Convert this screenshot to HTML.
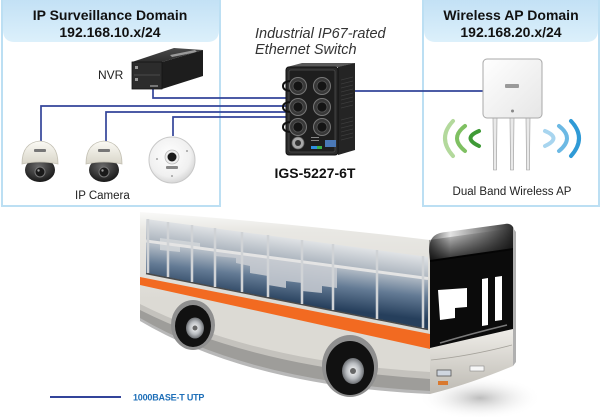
<!DOCTYPE html>
<html><head><meta charset="utf-8">
<style>
html,body{margin:0;padding:0;background:#fff;}
svg{display:block;}
text{font-family:"Liberation Sans",Arial,sans-serif;}
</style></head>
<body>
<svg width="600" height="417" viewBox="0 0 600 417" xmlns="http://www.w3.org/2000/svg">
<defs>
 <linearGradient id="hdr" x1="0" y1="0" x2="0" y2="1">
  <stop offset="0" stop-color="#c3e1f5"/><stop offset="1" stop-color="#dcf0fb"/>
 </linearGradient>
 <linearGradient id="body" gradientUnits="userSpaceOnUse" x1="0" y1="206" x2="0" y2="300">
  <stop offset="0" stop-color="#ffffff"/><stop offset="0.25" stop-color="#e9e8e4"/><stop offset="1" stop-color="#dcdad4"/>
 </linearGradient>
 <linearGradient id="winLow" gradientUnits="userSpaceOnUse" x1="300" y1="263" x2="295" y2="304">
  <stop offset="0" stop-color="#b3bcc6"/><stop offset="0.45" stop-color="#637a94"/><stop offset="1" stop-color="#263f5c"/>
 </linearGradient>
 <linearGradient id="winUp" gradientUnits="userSpaceOnUse" x1="300" y1="240" x2="297" y2="262">
  <stop offset="0" stop-color="#dfe2e5"/><stop offset="1" stop-color="#a9b2bc"/>
 </linearGradient>
 <linearGradient id="cap" x1="0" y1="0" x2="1" y2="0">
  <stop offset="0" stop-color="#5a5a5a"/><stop offset="0.25" stop-color="#e3e3e3"/><stop offset="0.6" stop-color="#8e8e8e"/><stop offset="1" stop-color="#2a2a2a"/>
 </linearGradient>
 <linearGradient id="capv" x1="0" y1="0" x2="0" y2="1">
  <stop offset="0" stop-color="#000" stop-opacity="0"/><stop offset="1" stop-color="#000" stop-opacity="0.85"/>
 </linearGradient>
 <linearGradient id="lowfront" x1="0" y1="0" x2="0" y2="1">
  <stop offset="0" stop-color="#efede8"/><stop offset="1" stop-color="#bdbab3"/>
 </linearGradient>
 <radialGradient id="hub">
  <stop offset="0" stop-color="#ffffff"/><stop offset="0.6" stop-color="#b9bcc0"/><stop offset="1" stop-color="#6d7074"/>
 </radialGradient>
 <radialGradient id="shadow">
  <stop offset="0" stop-color="#bdbdbd"/><stop offset="1" stop-color="#ffffff" stop-opacity="0"/>
 </radialGradient>
 <radialGradient id="dome" cx="0.45" cy="0.35" r="0.7">
  <stop offset="0" stop-color="#6a6a6a"/><stop offset="1" stop-color="#121212"/>
 </radialGradient>
 <linearGradient id="house" x1="0" y1="0" x2="0" y2="1">
  <stop offset="0" stop-color="#fbfaf5"/><stop offset="1" stop-color="#d9d6c9"/>
 </linearGradient>
 <radialGradient id="fish" cx="0.45" cy="0.4" r="0.65">
  <stop offset="0" stop-color="#ffffff"/><stop offset="0.7" stop-color="#f0f0f0"/><stop offset="1" stop-color="#cfcfcf"/>
 </radialGradient>
 <linearGradient id="apg" x1="0" y1="0" x2="1" y2="1">
  <stop offset="0" stop-color="#ffffff"/><stop offset="1" stop-color="#e6e6e6"/>
 </linearGradient>
 <linearGradient id="nvrTop" x1="0" y1="0" x2="0" y2="1">
  <stop offset="0" stop-color="#4a4a4a"/><stop offset="1" stop-color="#2e2e2e"/>
 </linearGradient>
</defs>
<rect width="600" height="417" fill="#fff"/>

<!-- LEFT BOX -->
<path d="M3,0 H219 V30 Q219,42 207,42 H15 Q3,42 3,30 Z" fill="url(#hdr)"/>
<rect x="2" y="-2" width="218" height="208" fill="none" stroke="#bcdff3" stroke-width="2"/>
<text x="110" y="20" text-anchor="middle" font-size="14" font-weight="bold" fill="#111">IP Surveillance Domain</text>
<text x="110" y="37" text-anchor="middle" font-size="14" font-weight="bold" fill="#111">192.168.10.x/24</text>

<!-- RIGHT BOX -->
<path d="M424,0 H598 V30 Q598,42 586,42 H436 Q424,42 424,30 Z" fill="url(#hdr)"/>
<rect x="423" y="-2" width="176" height="208" fill="none" stroke="#bcdff3" stroke-width="2"/>
<text x="511" y="20" text-anchor="middle" font-size="14" font-weight="bold" fill="#111">Wireless AP Domain</text>
<text x="511" y="37" text-anchor="middle" font-size="14" font-weight="bold" fill="#111">192.168.20.x/24</text>

<!-- connection lines -->
<g fill="none" stroke="#33449a" stroke-width="1.7">
 <path d="M153,88 V98 H292"/>
 <path d="M41,142 V106 H292"/>
 <path d="M106,142 V112 H292"/>
 <path d="M173,136 V117 H292"/>
 <path d="M352,91 H484"/>
</g>

<!-- NVR -->
<text x="98" y="79" font-size="12" fill="#222">NVR</text>
<g>
 <polygon points="132,62 162,62 203,50 174,48" fill="url(#nvrTop)"/>
 <polygon points="170,55 195,50 197,52 172,57" fill="#9a9a9a"/>
 <polygon points="162,62 203,50 203,76 162,89" fill="#1d1d1d"/>
 <rect x="132" y="62" width="30" height="27" fill="#2c2c2c" stroke="#151515" stroke-width="0.8"/>
 <line x1="134" y1="75" x2="160" y2="75" stroke="#555" stroke-width="0.8"/>
 <rect x="135" y="66" width="3" height="3" fill="#999"/>
 <rect x="135" y="78" width="3" height="3" fill="#999"/>
 <rect x="150" y="85" width="8" height="2" fill="#777"/>
</g>

<!-- Cameras -->
<g>
 <ellipse cx="40" cy="170" rx="15" ry="12" fill="url(#dome)"/>
 <path d="M22,164 C22,150 28,142 40,141 C52,142 58,150 58,164 Q40,160 22,164 Z" fill="url(#house)" stroke="#c2bfb2" stroke-width="0.8"/>
 <rect x="34" y="149" width="12" height="3" rx="1" fill="#777"/>
 <circle cx="40" cy="172" r="5" fill="#1a1a1a" stroke="#777" stroke-width="1"/>
 <circle cx="38.5" cy="170.5" r="1.2" fill="#999"/>
</g>
<g>
 <ellipse cx="104" cy="170" rx="15" ry="12" fill="url(#dome)"/>
 <path d="M86,164 C86,150 92,142 104,141 C116,142 122,150 122,164 Q104,160 86,164 Z" fill="url(#house)" stroke="#c2bfb2" stroke-width="0.8"/>
 <rect x="98" y="149" width="12" height="3" rx="1" fill="#777"/>
 <circle cx="104" cy="172" r="5" fill="#1a1a1a" stroke="#777" stroke-width="1"/>
 <circle cx="102.5" cy="170.5" r="1.2" fill="#999"/>
</g>
<g>
 <circle cx="172" cy="160" r="23" fill="url(#fish)" stroke="#c8c8c8" stroke-width="1"/>
 <circle cx="172" cy="157" r="7" fill="#eeeeee" stroke="#bbb" stroke-width="0.8"/>
 <circle cx="172" cy="157" r="4.5" fill="#1b1b1b"/>
 <rect x="166" y="166" width="12" height="3" rx="1" fill="#888"/>
 <circle cx="157" cy="159" r="0.9" fill="#888"/>
 <circle cx="187" cy="151" r="0.9" fill="#888"/>
 <circle cx="172" cy="176" r="0.9" fill="#888"/>
</g>
<text x="75" y="199" font-size="11.5" fill="#222">IP Camera</text>

<!-- Switch -->
<text x="255" y="38" font-size="14.5" font-style="italic" fill="#333">Industrial IP67-rated</text>
<text x="255" y="54" font-size="14.5" font-style="italic" fill="#333">Ethernet Switch</text>
<g>
 <polygon points="287,67 302,63 355,63 339,67" fill="#5a5a5a"/>
 <polygon points="338,67 355,63 355,150 338,155" fill="#242424"/>
 <g stroke="#3c3c3c" stroke-width="0.8">
  <line x1="341" y1="80" x2="353" y2="77"/><line x1="341" y1="84" x2="353" y2="81"/>
  <line x1="341" y1="88" x2="353" y2="85"/><line x1="341" y1="92" x2="353" y2="89"/>
  <line x1="341" y1="96" x2="353" y2="93"/><line x1="341" y1="100" x2="353" y2="97"/>
  <line x1="341" y1="104" x2="353" y2="101"/><line x1="341" y1="108" x2="353" y2="105"/>
  <line x1="341" y1="120" x2="353" y2="117"/><line x1="341" y1="124" x2="353" y2="121"/>
  <line x1="341" y1="128" x2="353" y2="125"/><line x1="341" y1="132" x2="353" y2="129"/>
  <line x1="341" y1="136" x2="353" y2="133"/><line x1="341" y1="140" x2="353" y2="137"/>
 </g>
 <rect x="286" y="67" width="52" height="88" rx="3" fill="#2b2b2b" stroke="#111" stroke-width="1"/>
 <rect x="289" y="70" width="46" height="82" rx="2" fill="#1e1e1e" stroke="#4d4d4d" stroke-width="0.8"/>
 <g fill="none" stroke="#111" stroke-width="2">
  <path d="M292,81 Q283,81 283,86 Q283,91 292,91"/>
  <path d="M292,102 Q283,102 283,107 Q283,112 292,112"/>
  <path d="M292,122 Q283,122 283,127 Q283,132 292,132"/>
 </g>
 <g stroke="#777" stroke-width="1">
  <circle cx="298" cy="86" r="8.5" fill="#383838"/><circle cx="322" cy="86" r="8.5" fill="#383838"/>
  <circle cx="298" cy="107" r="8.5" fill="#383838"/><circle cx="322" cy="107" r="8.5" fill="#383838"/>
  <circle cx="298" cy="127" r="8.5" fill="#383838"/><circle cx="322" cy="127" r="8.5" fill="#383838"/>
 </g>
 <g fill="#141414" stroke="#555" stroke-width="0.8">
  <circle cx="298" cy="86" r="5"/><circle cx="322" cy="86" r="5"/>
  <circle cx="298" cy="107" r="5"/><circle cx="322" cy="107" r="5"/>
  <circle cx="298" cy="127" r="5"/><circle cx="322" cy="127" r="5"/>
 </g>
 <circle cx="298" cy="143" r="6" fill="#a9a9a9" stroke="#666" stroke-width="0.8"/>
 <circle cx="298" cy="143" r="3" fill="#333"/>
 <rect x="311" y="137" width="8" height="1" fill="#888"/>
 <rect x="311" y="140" width="8" height="1" fill="#888"/>
 <rect x="311" y="146" width="6" height="3" fill="#2f8fe0"/>
 <rect x="317" y="146" width="5" height="3" fill="#3cb44a"/>
 <rect x="325" y="140" width="11" height="7" fill="#4a78b6"/>
</g>
<text x="315" y="178" text-anchor="middle" font-size="14" font-weight="bold" fill="#111">IGS-5227-6T</text>

<!-- Wireless AP -->
<g fill="none" stroke-width="4" stroke-linecap="round">
 <path d="M453,121 Q437,138 453,156" stroke="#b3d99c"/>
 <path d="M465,126 Q449,138 465,151" stroke="#7fc062"/>
 <path d="M479,131 Q462,138 479,146" stroke="#3f9a36"/>
 <path d="M545,131 Q562,138 545,146" stroke="#a8d5ef"/>
 <path d="M559,126 Q575,138 559,151" stroke="#6cb9e4"/>
 <path d="M571,121 Q587,138 571,156" stroke="#2f9ad6"/>
</g>
<g fill="#e9e9e9" stroke="#999" stroke-width="0.6">
 <path d="M493,118 H497 L496.5,170 H493.5 Z"/>
 <path d="M510,118 H514 L513.5,170 H510.5 Z"/>
 <path d="M526,118 H530 L529.5,170 H526.5 Z"/>
</g>
<rect x="483" y="59" width="59" height="59" rx="4" fill="url(#apg)" stroke="#a8a8a8" stroke-width="1"/>
<rect x="505" y="84" width="14" height="4" rx="1" fill="#9a9a9a"/>
<circle cx="512.5" cy="111" r="1.5" fill="#888"/>
<text x="512" y="195" text-anchor="middle" font-size="11.5" fill="#222">Dual Band Wireless AP</text>

<!-- BUS -->
<ellipse cx="480" cy="398" rx="62" ry="22" fill="url(#shadow)"/>
<path d="M140,212 Q280,222 430,240 L430,393 Q250,385 140,320 Z" fill="url(#body)"/>
<!-- skirt -->
<path d="M140,304 Q255,362 430,372 L430,393 Q250,385 140,320 Z" fill="#c4c2bd"/>
<path d="M140,310 Q255,368 430,379 L430,393 Q250,385 140,320 Z" fill="#9e9d9a"/>
<path d="M140,318 Q250,382 430,391 L430,394 Q250,386 140,321 Z" fill="#b8b8b8"/>
<!-- windows -->
<polygon points="146,219 428,257 428,278 146,241" fill="url(#winUp)"/>
<polygon points="146,241 428,278 428,329 146,273" fill="url(#winLow)"/>
<polygon points="215,250 337,266 337,288 322,286 322,293 302,291 302,283 286,281 286,288 268,285 268,276 250,273 250,266 236,263 236,258 215,256" fill="#c9cdd2" opacity="0.85"/>
<polygon points="160,238 200,243 200,249 180,247 180,252 160,250" fill="#d5d8db" opacity="0.8"/>
<line x1="146" y1="241" x2="428" y2="278.5" stroke="#e4e4e4" stroke-width="3"/>
<line x1="146" y1="273.5" x2="428" y2="329.5" stroke="#4a4a4a" stroke-width="1.5"/>
<g stroke="#d0d3d6" stroke-width="2.5">
 <line x1="148" y1="219" x2="148" y2="273"/>
 <line x1="168" y1="222" x2="168" y2="277"/>
 <line x1="192" y1="225" x2="192" y2="282"/>
 <line x1="215" y1="228" x2="215" y2="287"/>
 <line x1="242" y1="232" x2="242" y2="292"/>
 <line x1="268" y1="235" x2="268" y2="297"/>
 <line x1="302" y1="240" x2="302" y2="304"/>
 <line x1="333" y1="244" x2="333" y2="310"/>
 <line x1="377" y1="250" x2="377" y2="319"/>
 <line x1="423" y1="256" x2="423" y2="328"/>
</g>
<!-- stripe -->
<polygon points="140,277 430,334 430,349 140,285" fill="#f26a21"/>
<!-- wheels -->
<ellipse cx="193" cy="325" rx="22" ry="25" fill="#8f8f8f"/>
<ellipse cx="193" cy="326" rx="18" ry="21" fill="#111"/>
<ellipse cx="195" cy="328" rx="9" ry="10.5" fill="url(#hub)"/>
<circle cx="195" cy="328" r="2.5" fill="#666"/>
<ellipse cx="350" cy="366" rx="28" ry="31" fill="#8f8f8f"/>
<ellipse cx="350" cy="368" rx="24" ry="27" fill="#111"/>
<ellipse cx="353" cy="371" rx="11" ry="13" fill="url(#hub)"/>
<circle cx="353" cy="371" r="3" fill="#666"/>
<!-- front -->
<polygon points="430,256 513,244 513,331 430,350" fill="#0b0b0b"/>
<path d="M429,252 C429,238 434,233 446,232 L505,224 C511,223 514,226 514,232 L513,248 L430,260 Z" fill="url(#cap)"/>
<path d="M429,240 L514,228 L513,250 L430,262 Z" fill="url(#capv)"/>
<polygon points="438,290 467,288 467,307 455,308 455,318 440,320" fill="#fff"/>
<polygon points="482,279 488,278 488,325 482,326" fill="#fff"/>
<polygon points="495,277 502,276 502,320 495,321" fill="#fff"/>
<path d="M440,343 Q470,334 507,325" stroke="#7a7a7a" stroke-width="1.5" fill="none"/>
<path d="M430,348 L513,329 L513,366 Q470,384 430,394 Z" fill="url(#lowfront)"/>
<path d="M431,360 Q470,356 512,345" stroke="#a5a29b" stroke-width="0.8" fill="none"/>
<rect x="437" y="370" width="14" height="6" fill="#cfd6e0" stroke="#555" stroke-width="0.8"/>
<rect x="438" y="381" width="10" height="4" fill="#d9792f"/>
<rect x="470" y="366" width="14" height="5" fill="#f7f7f7" stroke="#888" stroke-width="0.6"/>
<polygon points="513,228 516,232 516,362 513,366" fill="#b0b0b0"/>

<!-- legend -->
<line x1="50" y1="397" x2="121" y2="397" stroke="#33449a" stroke-width="2"/>
<text x="133" y="400.5" font-size="9" font-weight="bold" fill="#1e6fb8" letter-spacing="-0.2">1000BASE-T UTP</text>
</svg>
</body></html>
